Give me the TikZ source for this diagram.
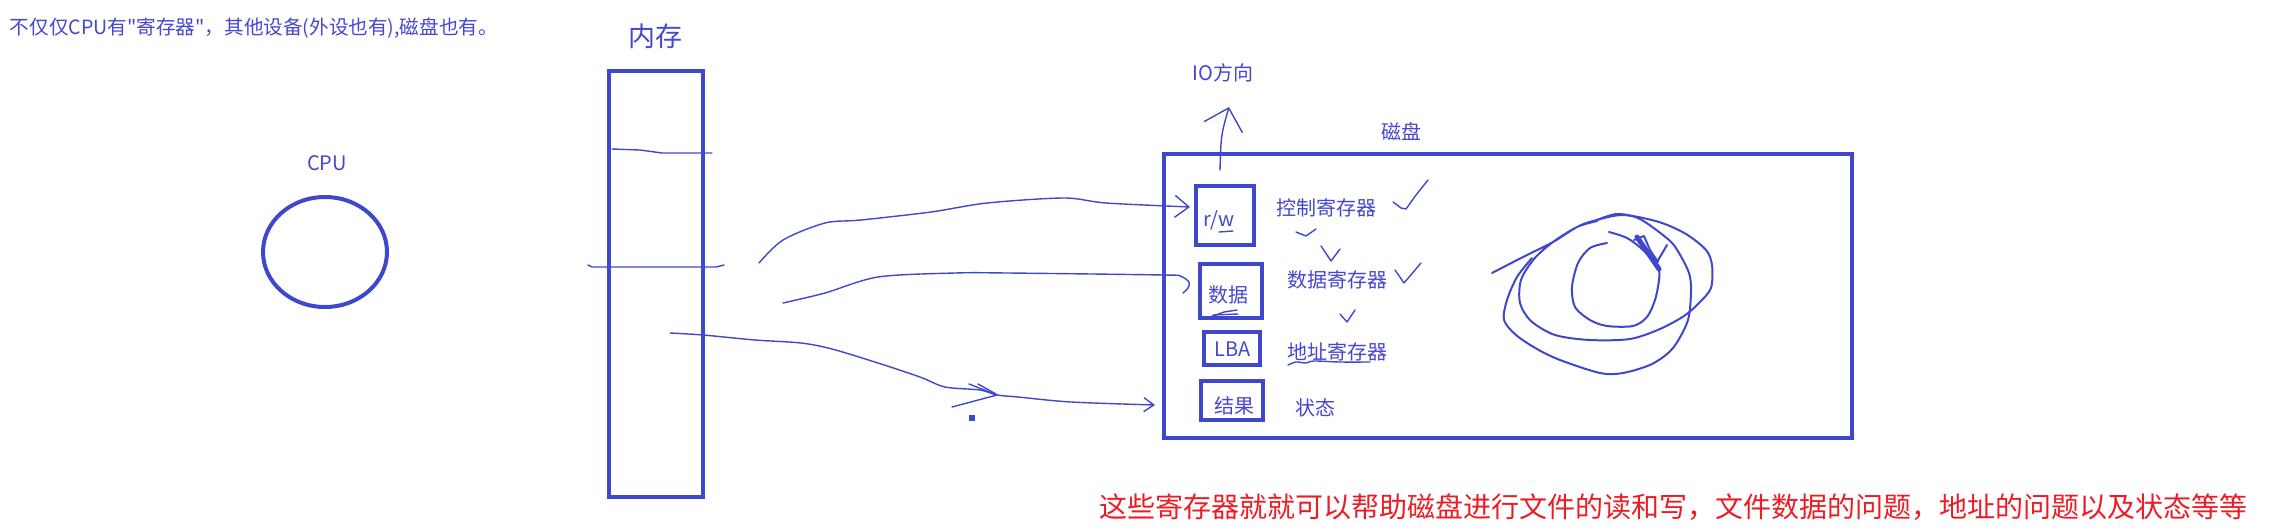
\documentclass[tikz,border=0pt]{standalone}
\usepackage{fontspec}
\usepackage{tikz}
\usetikzlibrary{arrows.meta,shapes.geometric}
\setmainfont{Noto Sans CJK SC}[Ligatures=TeXOff]
\definecolor{skBlue}{HTML}{3F48CC}
\definecolor{skText}{HTML}{4646D0}
\definecolor{skRed}{HTML}{ED1C24}

\begin{document}
\begin{tikzpicture}[
  x=0.5pt,y=-0.5pt,
  font=\fontsize{10}{12}\selectfont,
  every node/.style={
    text=skText,inner sep=0pt,outer sep=0pt
  },
  regbox/.style={
    draw=skBlue,
    line width=2pt
  },
  pen/.style={
    draw=skBlue,
    line width=0.7pt,
    line cap=round,
    line join=round
  },
  ink/.style={
    pen,
    line width=1pt
  },
  hand/.style={
    pen,
    -{Straight Barb[length=7pt,width=11pt]}
  }
]
\path[use as bounding box] (0,0) rectangle (2277,531);

% Note at the top
\node[anchor=west,font=\fontsize{9.8}{12}\selectfont] (note) at (10,28)
  {不仅仅CPU有"寄存器"，其他设备(外设也有),磁盘也有。};

% CPU
\node (cpulbl) at (327,163) {CPU};
\node[
  ellipse,
  regbox,
  minimum width=62pt,
  minimum height=55pt
] (cpu) at (325,252) {};

% Memory column
\node[font=\fontsize{13.5}{16}\selectfont] (memlbl) at (655,36) {内存};
\node[
  regbox,
  minimum width=47pt,
  minimum height=213pt
] (mem) at (656,284) {};

\draw[pen] (612,149) -- (640,150) -- (662,153) -- (712,153);
\draw[pen] (588,265) -- (592,267) -- (716,267) -- (724,265);

% Disk
\node (disklbl) at (1401,132) {磁盘};
\node[
  regbox,
  minimum width=344pt,
  minimum height=142pt
] (disk) at (1508,296) {};

% Register boxes
\node[regbox,minimum width=29pt,minimum height=29.5pt] (rw) at (1225,215.5) {};
\node[regbox,minimum width=31pt,minimum height=27pt] (dat) at (1231,291) {};
\node[regbox,minimum width=28pt,minimum height=16.5pt] (lba) at (1232,348.5) {};
\node[regbox,minimum width=31pt,minimum height=19.5pt] (res) at (1232,400.5) {};

\node (rwtxt) at (1219,220) {r/w};
\node (dattxt) at (1228,295) {数据};
\node (lbatxt) at (1233,349) {LBA};
\node (restxt) at (1234,406) {结果};

% Register names
\node (ctlreg) at (1326,208) {控制寄存器};
\node (datreg) at (1337,280) {数据寄存器};
\node (adrreg) at (1337,352) {地址寄存器};
\node (state) at (1315,408) {状态};

% Ticks and underlines
\draw[pen] (1393,202) -- (1401,208) -- (1406,209) -- (1416,195) -- (1428,180);
\draw[pen] (1296,232) -- (1306,236) -- (1316,229);
\draw[pen] (1321,246) -- (1331,261) -- (1340,249);
\draw[pen] (1395,270) -- (1404,283) -- (1421,263);
\draw[pen] (1340,314) -- (1347,322) -- (1355,310);
\draw[pen] (1219,232) -- (1233,231);
\draw[pen] (1210,317) -- (1224,312) -- (1237,310);
\draw[pen] (1213,315) -- (1238,314);
\draw[pen] plot[smooth] coordinates
  {(1288,365) (1296,362) (1306,363) (1314,361) (1340,362) (1370,362)};

% Platter scribble
\draw[ink] plot[smooth] coordinates {
  (1532,258) (1517,277) (1507,300) (1504,320) (1516,335) (1537,349)
  (1560,360) (1600,373) (1623,373) (1652,364) (1673,348) (1688,320)
  (1691,290) (1689,273) (1679,253) (1669,240) (1640,219) (1617,214)
  (1597,220)};
\draw[ink] plot[smooth] coordinates {
  (1492,273) (1523,257) (1553,242) (1577,227) (1593,221) (1623,215)
  (1659,222) (1686,234) (1706,250) (1712,265) (1711,288) (1699,303)
  (1684,316) (1660,329) (1630,339) (1590,340) (1555,335) (1531,321)
  (1520,303) (1521,280) (1534,259) (1553,242) (1577,227) (1597,221)};
\draw[ink] plot[smooth] coordinates {
  (1607,243) (1590,248) (1578,263) (1572,287) (1575,307) (1590,320)
  (1607,326) (1633,326) (1647,317) (1655,300) (1659,280) (1658,268)
  (1643,250) (1627,238) (1609,232)};
\draw[ink,line width=2.5pt] (1637,237) -- (1659,269);
\draw[ink] (1634,240) -- (1644,236) -- (1650,250) -- (1658,262);
\draw[ink] (1657,262) -- (1667,245);

% Transfers from memory into the disk
\coordinate (a1) at (759,263);
\coordinate (t1) at (1190,207);
\coordinate (a2) at (783,303);
\coordinate (m3) at (670,333);
\coordinate (t3) at (1155,405);

\draw[hand] plot[smooth] coordinates
  {(a1) (783,240) (825,223) (861,220) (931,212) (987,203)
   (1064,198) (1106,203) (t1)};

\draw[pen] plot[smooth] coordinates
  {(a2) (825,293) (878,277) (955,273) (1008,273) (1164,275)
   (1180,276) (1189,282) (1188,288) (1183,293)};

\draw[pen,-{Straight Barb[length=5pt,width=7pt]}] plot[smooth] coordinates
  {(m3) (703,335) (755,340) (801,343) (832,349) (878,363) (920,377)
   (945,387) (980,390) (997,395) (1018,397) (1071,402) (t3)};
\draw[pen] (969,384) -- (997,395) -- (952,407);
\draw[pen] (978,384) -- (996,394);
\fill[skBlue] (969,415) rectangle (975,421);

% IO direction
\coordinate (io0) at (1220,170);
\coordinate (io1) at (1229,107);
\node (iolbl) at (1223,73) {IO方向};
\draw[pen,-{Straight Barb[length=10pt,width=20pt]}]
  (io0) .. controls (1221,135) .. (io1);

% Summary in red
\node[
  anchor=west,
  text=skRed,
  font=\fontsize{14}{16}\selectfont
] (summary) at (1099,507)
  {这些寄存器就就可以帮助磁盘进行文件的读和写，文件数据的问题，地址的问题以及状态等等};

\end{tikzpicture}
\end{document}
